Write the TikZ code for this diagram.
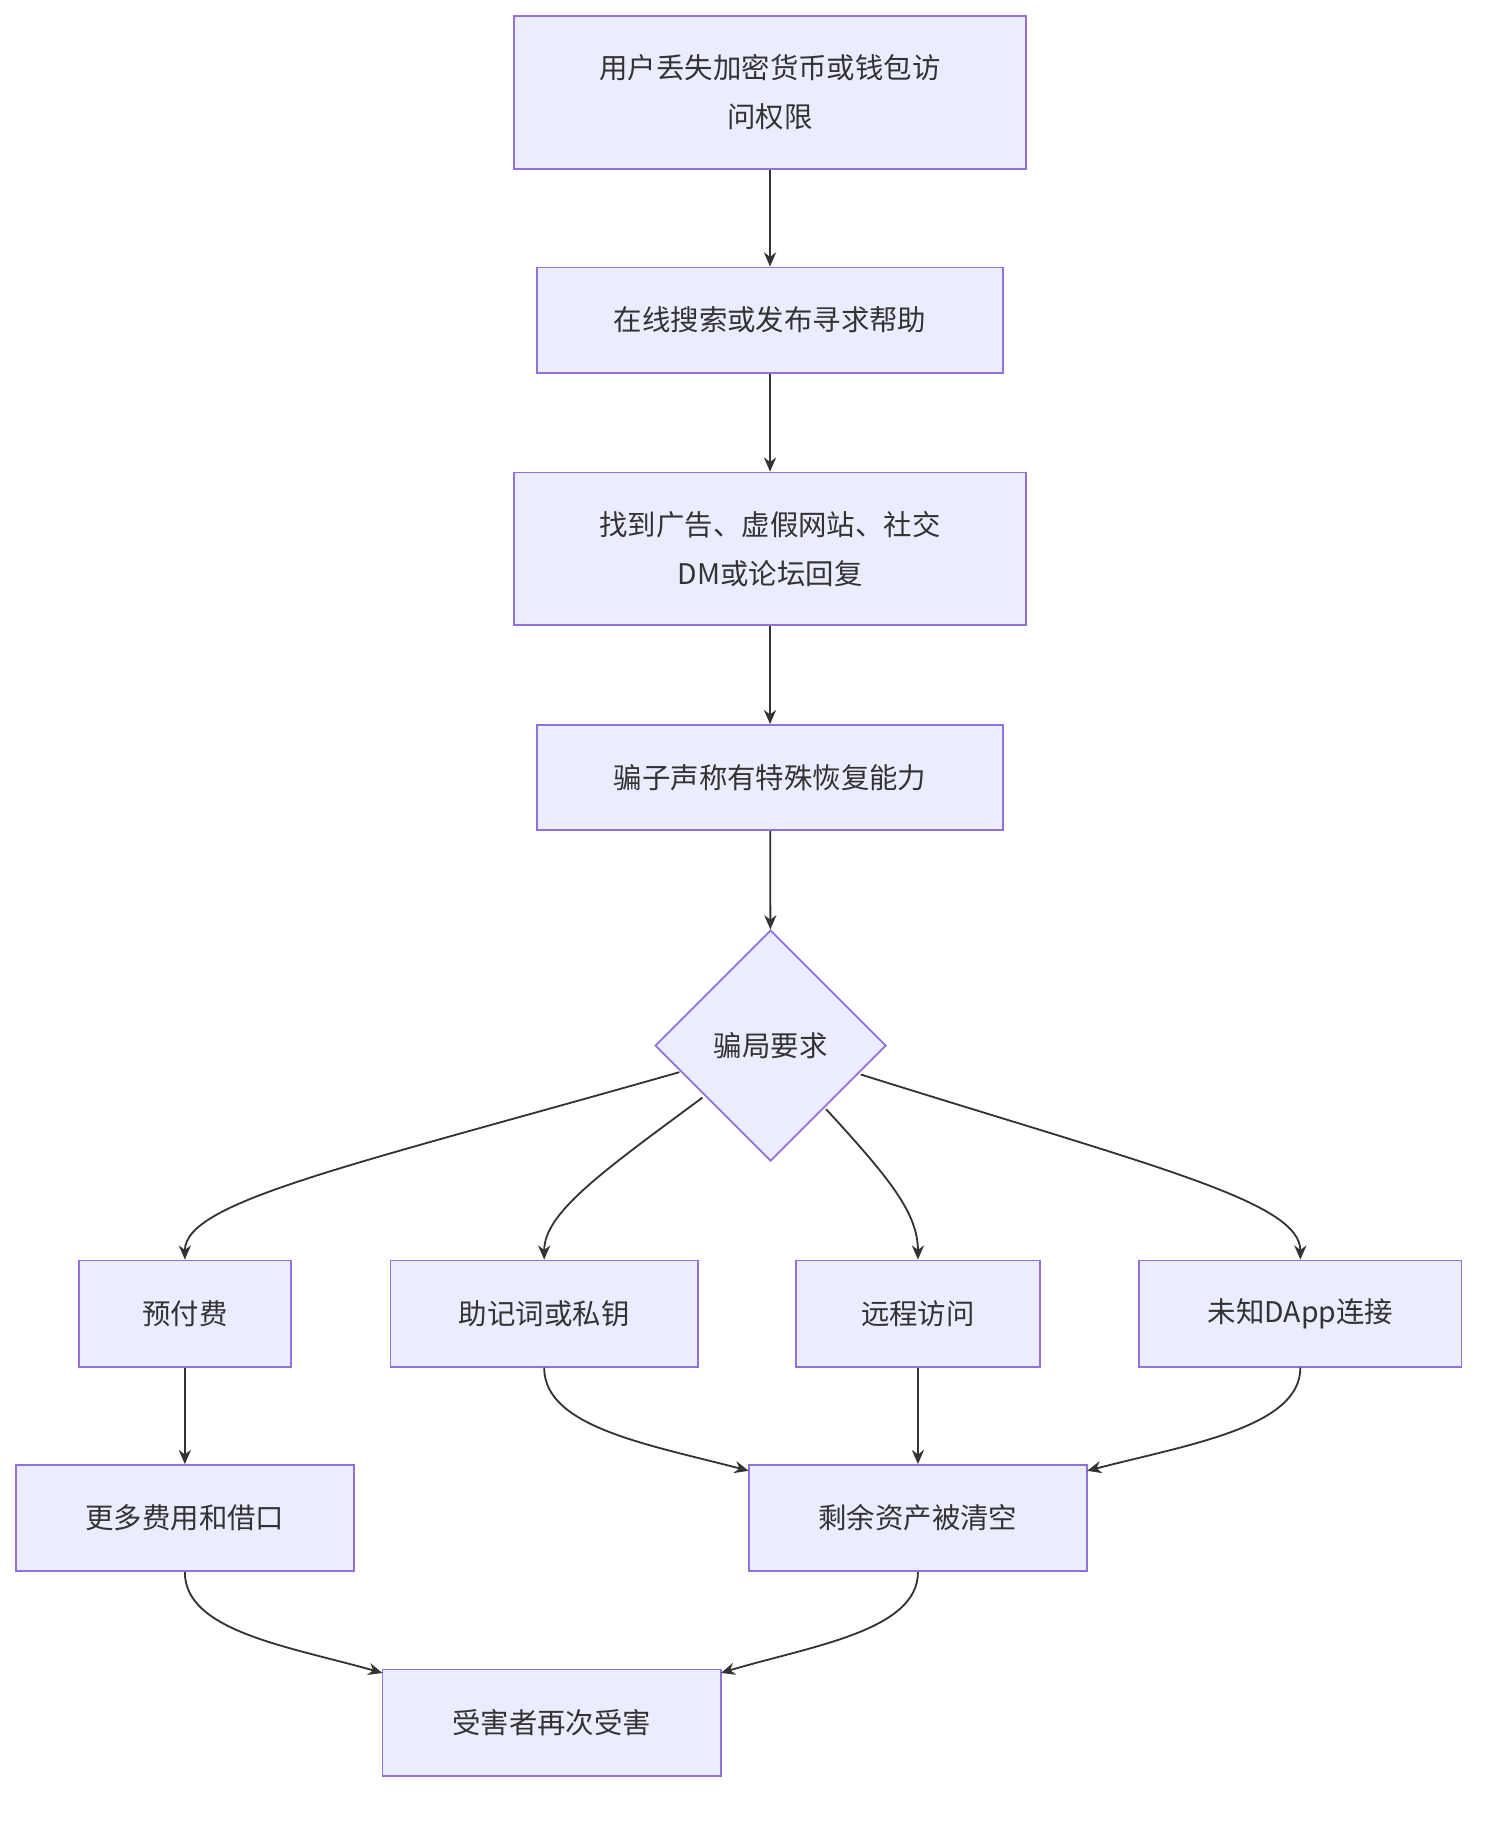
\documentclass[tikz,border=0pt]{standalone}
\usepackage{fontspec}
\setmainfont{Noto Sans CJK SC}
\usetikzlibrary{arrows.meta,shapes.geometric}
\definecolor{bx}{HTML}{ECECFF}
\definecolor{bd}{HTML}{9370DB}
\definecolor{ln}{HTML}{333333}
\begin{document}
\begin{tikzpicture}[x=0.02cm,y=-0.02cm,
 box/.style={draw=bd,fill=bx,line width=0.9pt,align=center,font=\fontsize{14pt}{24pt}\selectfont,text=ln,inner sep=0pt},
 ar/.style={draw=ln,line width=0.9pt,-{Stealth[length=7pt,width=6pt]}}]
\useasboundingbox (0,0) rectangle (1300,1577);
\node[box,minimum width=8.86cm,minimum height=2.64cm] (n1) at (666.5,80) {用户丢失加密货币或钱包访\\问权限};
\node[box,minimum width=8.06cm,minimum height=1.82cm] (n2) at (666.5,277) {在线搜索或发布寻求帮助};
\node[box,minimum width=8.86cm,minimum height=2.64cm] (n3) at (666.5,475) {找到广告、虚假网站、社交\\DM或论坛回复};
\node[box,minimum width=8.06cm,minimum height=1.82cm] (n4) at (666.5,673) {骗子声称有特殊恢复能力};
\node[box,diamond,aspect=1,minimum width=4cm,minimum height=4cm] (d) at (667,905) {骗局要求};
\node[box,minimum width=3.68cm,minimum height=1.84cm] (a) at (160,1137) {预付费};
\node[box,minimum width=5.32cm,minimum height=1.84cm] (b) at (471,1137) {助记词或私钥};
\node[box,minimum width=4.22cm,minimum height=1.84cm] (c) at (794.5,1137) {远程访问};
\node[box,minimum width=5.58cm,minimum height=1.84cm] (dd) at (1125.5,1137) {未知DApp连接};
\node[box,minimum width=5.86cm,minimum height=1.84cm] (e) at (160,1314) {更多费用和借口};
\node[box,minimum width=5.86cm,minimum height=1.84cm] (f) at (794.5,1314) {剩余资产被清空};
\node[box,minimum width=5.86cm,minimum height=1.84cm] (g) at (477.5,1491) {受害者再次受害};
\coordinate (p1) at (588,928);
\coordinate (p2) at (608,950);
\coordinate (p3) at (715,960);
\coordinate (p4) at (745,930);
\coordinate (f1) at (648,1273);
\coordinate (f2) at (941,1273);
\coordinate (g1) at (331,1448);
\coordinate (g2) at (624,1448);
\draw[ar] (n1) -- (n2);
\draw[ar] (n2) -- (n3);
\draw[ar] (n3) -- (n4);
\draw[ar] (n4) -- (d);
\draw[ar] (p1) .. controls (300,1010) and (160,1040) .. (a.north);
\draw[ar] (p2) .. controls (520,1015) and (471,1050) .. (b.north);
\draw[ar] (p3) .. controls (770,1020) and (794.5,1050) .. (c.north);
\draw[ar] (p4) .. controls (1000,1010) and (1125.5,1040) .. (dd.north);
\draw[ar] (a) -- (e);
\draw[ar] (b.south) .. controls (471,1235) and (560,1250) .. (f1);
\draw[ar] (c) -- (f);
\draw[ar] (dd.south) .. controls (1125.5,1235) and (1030,1250) .. (f2);
\draw[ar] (e.south) .. controls (160,1412) and (250,1425) .. (g1);
\draw[ar] (f.south) .. controls (794.5,1412) and (700,1425) .. (g2);
\end{tikzpicture}
\end{document}
